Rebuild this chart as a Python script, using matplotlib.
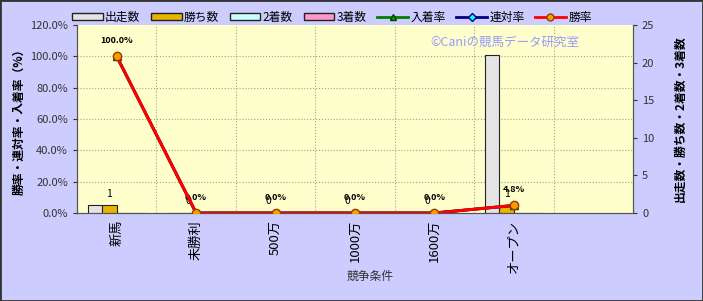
import matplotlib.pyplot as plt
import numpy as np
from matplotlib.patches import Rectangle
from matplotlib.lines import Line2D

plt.rcParams['font.family'] = ['Noto Sans CJK JP', 'DejaVu Sans']

# データ
categories = ['新馬', '未勝利', '500万', '1000万', '1600万', 'オープン', '']
starts = [1, 0, 0, 0, 0, 21, np.nan]
wins = [1, 0, 0, 0, 0, 1, np.nan]
seconds = [0, 0, 0, 0, 0, 0, np.nan]
thirds = [0, 0, 0, 0, 0, 0, np.nan]
win_rate = [100.0, 0.0, 0.0, 0.0, 0.0, 4.8, np.nan]
ren_rate = [100.0, 0.0, 0.0, 0.0, 0.0, 4.8, np.nan]
in_rate = [100.0, 0.0, 0.0, 0.0, 0.0, 4.8, np.nan]
n_cat = 6

bg = '#CCCCFF'
plot_bg = '#FFFFCC'

fig = plt.figure(figsize=(7.03, 3.01), dpi=100, facecolor=bg)
ax = fig.add_axes([0.1095, 0.2924, 0.7909, 0.6246])
ax2 = ax.twinx()
ax.set_zorder(ax2.get_zorder() + 1)
ax.patch.set_visible(False)
ax2.patch.set_visible(True)
ax2.patch.set_facecolor(plot_bg)

x = np.arange(len(categories))
w = 0.183

# 棒グラフ (右軸)
ax2.bar(x - 1.5 * w, starts, w, color='#E4E4E4', edgecolor='#222222', lw=0.8, zorder=3)
ax2.bar(x - 0.5 * w, wins, w, color='#E8B400', edgecolor='#222222', lw=0.8, zorder=3)
ax2.bar(x + 0.5 * w, seconds, w, color='#CCFFFF', edgecolor='#222222', lw=0.8, zorder=3)
ax2.bar(x + 1.5 * w, thirds, w, color='#FF99CC', edgecolor='#222222', lw=0.8, zorder=3)
ax2.set_ylim(0, 25)
ax2.set_yticks(np.arange(0, 26, 5))
ax2.set_yticks(np.linspace(0, 25, 7), minor=True)
ax2.grid(which='minor', axis='y', color='#A0A0A0', ls=':', lw=0.8, zorder=0)
for b in x[:-1] + 0.5:
    ax2.axvline(b, color='#A0A0A0', ls=':', lw=0.8, zorder=0)
ax2.tick_params(axis='y', which='minor', length=0)
ax2.tick_params(axis='y', which='major', labelsize=8, colors='#333333', length=3)
ax2.set_ylabel('出走数・勝ち数・2着数・3着数', rotation=90, fontsize=8.5,
               fontweight='bold', labelpad=14)

for i in range(n_cat):
    ax2.annotate('%d' % wins[i], (x[i] - 0.5 * w, wins[i]), xytext=(0, 5),
                 textcoords='offset points', ha='center', va='bottom', fontsize=7.5)

# 折れ線 (左軸)
ax.plot(x, in_rate, color='green', lw=2, marker='^', ms=6, mfc='#00AA00', mec='#004400', zorder=3)
ax.plot(x, ren_rate, color='navy', lw=2, marker='D', ms=4, mfc='cyan', mec='navy', zorder=4)
ax.plot(x, win_rate, color='red', lw=2.2, marker='o', ms=6, mfc='#FF9900', mec='#884400', zorder=5)
for i in range(n_cat):
    ax.annotate('%.1f%%' % win_rate[i], (x[i], win_rate[i]), xytext=(0, 8),
                textcoords='offset points', ha='center', va='bottom', fontsize=6.5,
                fontweight='bold')

ax.set_xlim(-0.5, len(categories) - 0.5)
ax.set_ylim(0, 120)
ax.set_yticks(np.arange(0, 121, 20))
ax.set_yticklabels(['%.1f%%' % v for v in np.arange(0, 121, 20)])
ax.tick_params(axis='y', labelsize=8, colors='#333333', length=3)
ax.set_xticks(x)
ax.set_xticklabels(categories, rotation=90, fontsize=9.5, va='top', ha='center')
ax.tick_params(axis='x', length=0, pad=5)
ax.set_ylabel('勝率・連対率・入着率（%）', fontsize=8.5, fontweight='bold')
ax.yaxis.set_label_coords(-0.093, 0.5)
ax.set_xlabel('競争条件', fontsize=8.5, color='#333333')
ax.xaxis.set_label_coords(0.527, -0.305)

for a in (ax, ax2):
    for s in a.spines.values():
        s.set_color('#555555')
    a.spines['top'].set_visible(False)

ax.text(0.77, 0.905, '©Caniの競馬データ研究室', transform=ax.transAxes, ha='center',
        va='center', fontsize=9, color='#9999FF')

# 凡例
handles = [
    Rectangle((0, 0), 1, 1, fc='#E4E4E4', ec='#222222'),
    Rectangle((0, 0), 1, 1, fc='#E8B400', ec='#222222'),
    Rectangle((0, 0), 1, 1, fc='#CCFFFF', ec='#222222'),
    Rectangle((0, 0), 1, 1, fc='#FF99CC', ec='#222222'),
    Line2D([], [], color='green', lw=2, marker='^', ms=5, mfc='#00AA00', mec='#004400'),
    Line2D([], [], color='navy', lw=2, marker='D', ms=4, mfc='cyan', mec='navy'),
    Line2D([], [], color='red', lw=2, marker='o', ms=5, mfc='#FF9900', mec='#884400'),
]
labels = ['出走数', '勝ち数', '2着数', '3着数', '入着率', '連対率', '勝率']
fig.legend(handles, labels, loc='center', bbox_to_anchor=(0.472, 0.943), ncol=7,
           frameon=False, fontsize=8.5, handlelength=2.6, handleheight=0.6,
           handletextpad=0.2, columnspacing=0.9)

fig.add_artist(Rectangle((0, 0), 1, 1, transform=fig.transFigure, fill=False,
                         ec='#333333', lw=2))

fig.savefig('out.png', dpi=100, facecolor=bg)
